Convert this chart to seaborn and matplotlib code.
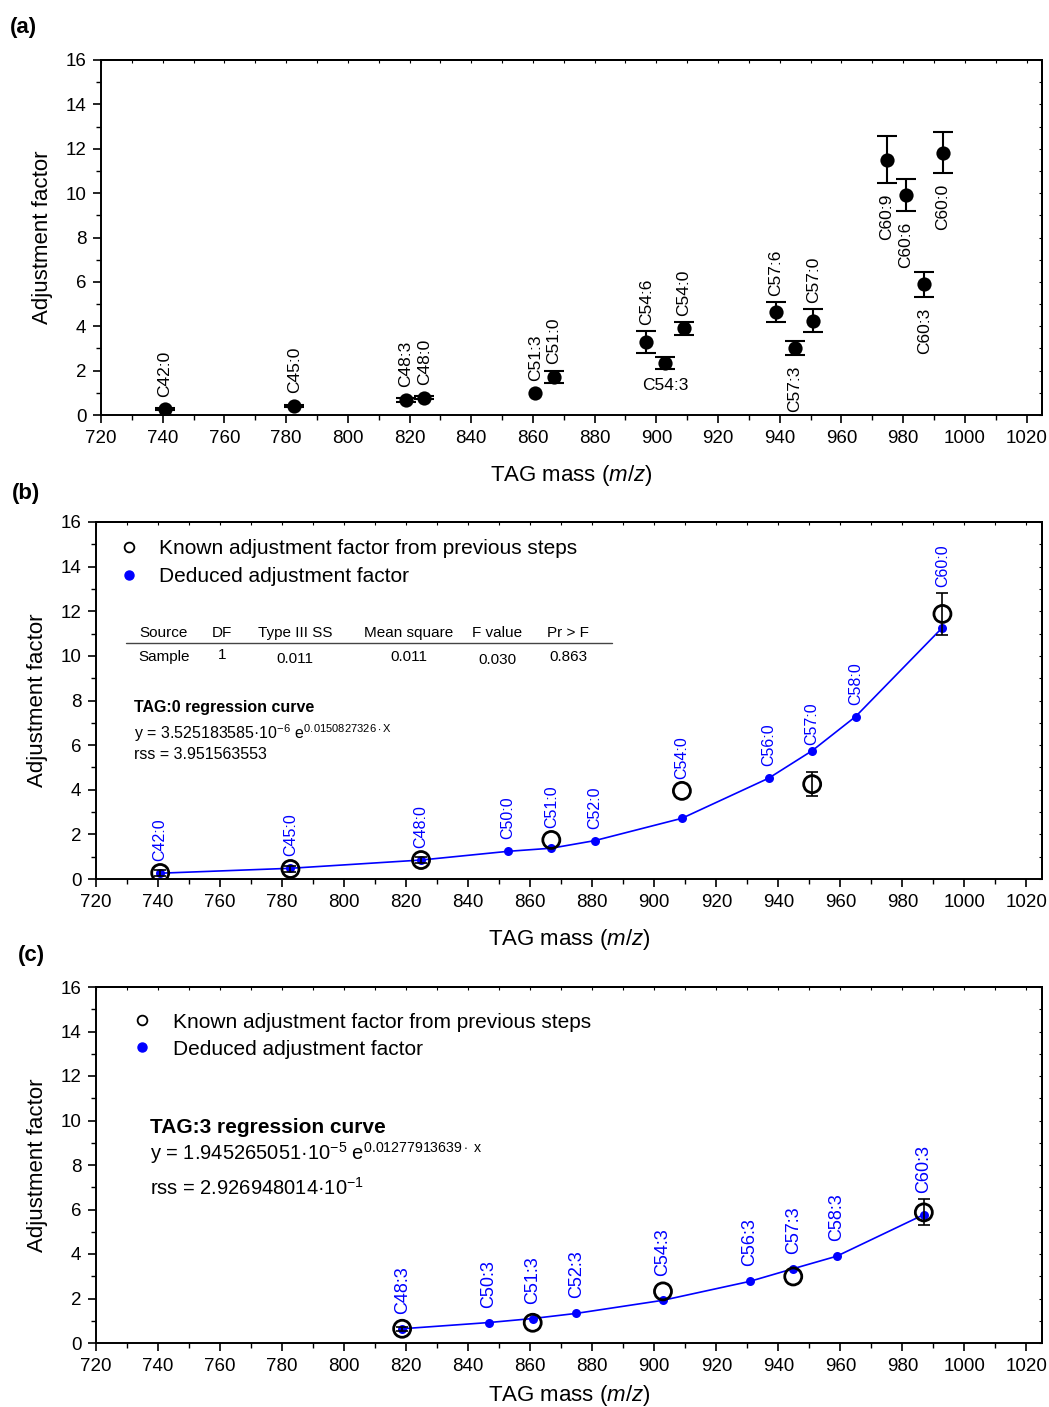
import numpy as np
import pandas as pd
import matplotlib
matplotlib.use("Agg")
import matplotlib.pyplot as plt
import seaborn as sns
from matplotlib.ticker import MultipleLocator, NullFormatter
from matplotlib.lines import Line2D

# ---------------- data ----------------
# Panel (a)
a_names = ["C42:0", "C45:0", "C48:3", "C48:0", "C51:3", "C51:0", "C54:6", "C54:3",
           "C54:0", "C57:6", "C57:3", "C57:0", "C60:9", "C60:6", "C60:3", "C60:0"]
a_mass = [740.7, 782.7, 818.7, 824.8, 860.8, 866.8, 896.7, 902.8,
          908.9, 938.8, 944.8, 950.9, 974.8, 980.9, 986.9, 992.9]
a_factor = [0.26, 0.42, 0.67, 0.78, 0.97, 1.72, 3.30, 2.35,
            3.90, 4.64, 3.03, 4.24, 11.51, 9.93, 5.89, 11.83]
a_error = [0.05, 0.05, 0.08, 0.08, 0.0, 0.26, 0.50, 0.28,
           0.30, 0.46, 0.32, 0.52, 1.05, 0.72, 0.55, 0.93]

# Panel (b) TAG:0
b_ded_names = ["C42:0", "C45:0", "C48:0", "C50:0", "C51:0", "C52:0",
               "C54:0", "C56:0", "C57:0", "C58:0", "C60:0"]
b_ded_mass = [740.7, 782.7, 824.8, 852.8, 866.8, 880.8, 908.9, 936.9, 950.9, 964.9, 992.9]
b_ded_factor = [0.26, 0.48, 0.85, 1.24, 1.38, 1.72, 2.72, 4.52, 5.75, 7.28, 11.27]
b_known_mass = [740.7, 782.7, 824.8, 866.8, 908.9, 950.9, 992.9]
b_known_factor = [0.27, 0.45, 0.85, 1.75, 3.95, 4.25, 11.88]
b_known_error = [0.12, 0.12, 0.12, 0.0, 0.0, 0.55, 0.94]

# Panel (c) TAG:3
c_ded_names = ["C48:3", "C50:3", "C51:3", "C52:3", "C54:3", "C56:3", "C57:3", "C58:3", "C60:3"]
c_ded_mass = [818.7, 846.7, 860.8, 874.8, 902.8, 930.8, 944.8, 958.8, 986.9]
c_ded_factor = [0.64, 0.92, 1.10, 1.33, 1.92, 2.77, 3.34, 3.90, 5.77]
c_known_mass = [818.7, 860.8, 902.8, 944.8, 986.9]
c_known_factor = [0.64, 0.91, 2.32, 2.99, 5.87]
c_known_error = [0.10, 0.0, 0.0, 0.0, 0.58]

# table in panel (b)
tbl_header = ["Source", "DF", "Type III SS", "Mean square", "F value", "Pr > F"]
tbl_row = ["Sample", "1", "0.011", "0.011", "0.030", "0.863"]

x_ticks = list(range(720, 1021, 20))
y_ticks = list(range(0, 17, 2))

# label placement in panel (a)
a_below = {"C57:3", "C60:9", "C60:6", "C60:3", "C60:0"}
a_below_h = {"C54:3"}

# ---------------- style ----------------
sns.set_theme(style="ticks")
plt.rcParams["font.family"] = ["Liberation Sans", "DejaVu Sans"]
plt.rcParams["mathtext.fontset"] = "custom"
plt.rcParams["mathtext.rm"] = "Liberation Sans"
plt.rcParams["mathtext.it"] = "Liberation Sans:italic"
plt.rcParams["mathtext.bf"] = "Liberation Sans:bold"
plt.rcParams["axes.linewidth"] = 1.4
for k in ["text.color", "axes.labelcolor", "xtick.color", "ytick.color", "axes.edgecolor"]:
    plt.rcParams[k] = "black"

W, H = 1049, 1407
fig = plt.figure(figsize=(W / 100, H / 100), dpi=100)
ax_a = fig.add_axes([101 / W, 1 - 415 / H, 941 / W, 355 / H])
ax_b = fig.add_axes([96 / W, 1 - 879 / H, 946 / W, 357 / H])
ax_c = fig.add_axes([96 / W, 1 - 1343 / H, 946 / W, 356 / H])


def style_axes(ax, xpad):
    ax.set_xlim(720, 1025)
    ax.set_ylim(0, 16)
    ax.set_xticks(x_ticks)
    ax.set_yticks(y_ticks)
    ax.xaxis.set_minor_locator(MultipleLocator(10))
    ax.yaxis.set_minor_locator(MultipleLocator(1))
    ax.tick_params(which="major", direction="out", length=6, width=1.2,
                   labelsize=13.5, pad=4.5, colors="black")
    ax.tick_params(which="minor", direction="out", length=3.5, width=1.0, colors="black")
    for s in ax.spines.values():
        s.set_visible(True)
        s.set_color("black")
        s.set_linewidth(1.4)
    secx = ax.secondary_xaxis("top")
    secx.xaxis.set_major_locator(MultipleLocator(10))
    secx.xaxis.set_major_formatter(NullFormatter())
    secx.tick_params(direction="in", length=2.5, width=0.8)
    secy = ax.secondary_yaxis("right")
    secy.yaxis.set_major_locator(MultipleLocator(1))
    secy.yaxis.set_major_formatter(NullFormatter())
    secy.tick_params(direction="in", length=2.5, width=0.8)
    ax.set_xlabel(r"TAG mass ($\mathit{m/z}$)", fontsize=16, labelpad=xpad)
    ax.set_ylabel("Adjustment factor", fontsize=16, labelpad=9)
    ax.grid(False)


style_axes(ax_a, 12)
style_axes(ax_b, 12)
style_axes(ax_c, 6)

# ---------------- panel (a) ----------------
df_a = pd.DataFrame({"name": a_names, "mass": a_mass, "factor": a_factor, "err": a_error})
df_ae = df_a[df_a["err"] > 0]
ax_a.errorbar(df_ae["mass"], df_ae["factor"], yerr=df_ae["err"], fmt="none",
              ecolor="black", elinewidth=1.5, capsize=7, capthick=1.5, zorder=2)
sns.scatterplot(data=df_a, x="mass", y="factor", ax=ax_a, s=105, color="black",
                edgecolor="black", linewidth=0, zorder=3, legend=False)
for _, r in df_a.iterrows():
    top = r["factor"] + max(r["err"], 0.3)
    bot = r["factor"] - max(r["err"], 0.3)
    if r["name"] in a_below_h:
        ax_a.annotate(r["name"], (r["mass"], bot), xytext=(0, -8), textcoords="offset pixels",
                      ha="center", va="top", fontsize=12.5)
    elif r["name"] in a_below:
        ax_a.annotate(r["name"], (r["mass"], bot), xytext=(0, -11), textcoords="offset pixels",
                      ha="center", va="top", rotation=90, fontsize=12.5)
    else:
        ax_a.annotate(r["name"], (r["mass"], top), xytext=(0, 6), textcoords="offset pixels",
                      ha="center", va="bottom", rotation=90, fontsize=12.5)


def draw_regression(ax, ded_names, ded_mass, ded_factor, k_mass, k_factor, k_err,
                    lab_size, pad_pts, pad_err):
    df_d = pd.DataFrame({"name": ded_names, "mass": ded_mass, "factor": ded_factor})
    df_k = pd.DataFrame({"mass": k_mass, "factor": k_factor, "err": k_err})
    df_ke = df_k[df_k["err"] > 0]
    sns.lineplot(data=df_d, x="mass", y="factor", ax=ax, color="#0000ff", lw=1.2,
                 estimator=None, sort=True, zorder=2)
    sns.scatterplot(data=df_d, x="mass", y="factor", ax=ax, s=42, color="#0000ff",
                    edgecolor="#0000ff", linewidth=0, zorder=3, legend=False)
    ax.errorbar(df_ke["mass"], df_ke["factor"], yerr=df_ke["err"], fmt="none",
                ecolor="black", elinewidth=1.2, capsize=4.5, capthick=1.2, zorder=4)
    sns.scatterplot(data=df_k, x="mass", y="factor", ax=ax, s=150, facecolor="none",
                    edgecolor="black", linewidth=2.0, zorder=5, legend=False)
    for _, r in df_d.iterrows():
        base = r["factor"]
        off = pad_pts
        match = df_k[np.isclose(df_k["mass"], r["mass"])]
        if len(match):
            kr = match.iloc[0]
            if kr["err"] > 0.3:
                base = max(base, kr["factor"] + kr["err"])
                off = pad_err
            else:
                base = max(base, kr["factor"])
        ax.annotate(r["name"], (r["mass"], base), xytext=(0, off), textcoords="offset pixels",
                    ha="center", va="bottom", rotation=90, fontsize=lab_size, color="#0000ff")


# ---------------- panel (b) ----------------
draw_regression(ax_b, b_ded_names, b_ded_mass, b_ded_factor, b_known_mass,
                b_known_factor, b_known_error, 11.5, 12, 6)

handles = [Line2D([], [], marker="o", ls="none", mfc="white", mec="black", mew=1.3, ms=7),
           Line2D([], [], marker="o", ls="none", mfc="#0000ff", mec="#0000ff", ms=6.5)]
leg_labels = ["Known adjustment factor from previous steps", "Deduced adjustment factor"]
ax_b.legend(handles, leg_labels, loc="upper left", bbox_to_anchor=(0.0236, 0.952),
            frameon=False, fontsize=15, handlelength=1.0, handletextpad=0.95,
            borderpad=0, borderaxespad=0, labelspacing=0.42)

col_x = [0.0719, 0.1332, 0.2104, 0.3309, 0.4239, 0.4989]
row_y = [0.622, 0.627, 0.616, 0.622, 0.613, 0.622]
for cx, h in zip(col_x, tbl_header):
    ax_b.text(cx, 0.689, h, transform=ax_b.transAxes, ha="center", va="center", fontsize=11)
for cx, ry, v in zip(col_x, row_y, tbl_row):
    ax_b.text(cx, ry, v, transform=ax_b.transAxes, ha="center", va="center", fontsize=11)
ax_b.plot([0.0317, 0.5455], [0.661, 0.661], transform=ax_b.transAxes, color="#444444", lw=1.0)

ax_b.text(0.0402, 0.479, "TAG:0 regression curve", transform=ax_b.transAxes,
          fontsize=11.5, fontweight="bold", va="center")
ax_b.text(0.0402, 0.409, r"y = 3.525183585·10$^{-6}$ e$^{0.0150827326\cdot\mathrm{X}}$",
          transform=ax_b.transAxes, fontsize=11.5, va="center")
ax_b.text(0.0402, 0.350, "rss = 3.951563553", transform=ax_b.transAxes,
          fontsize=11.5, va="center")

# ---------------- panel (c) ----------------
draw_regression(ax_c, c_ded_names, c_ded_mass, c_ded_factor, c_known_mass,
                c_known_factor, c_known_error, 13, 15, 6)

ax_c.legend(handles, leg_labels, loc="upper left", bbox_to_anchor=(0.0373, 0.928),
            frameon=False, fontsize=15, handlelength=1.0, handletextpad=1.0,
            borderpad=0, borderaxespad=0, labelspacing=0.38)

ax_c.text(0.0571, 0.6067, "TAG:3 regression curve", transform=ax_c.transAxes,
          fontsize=15, fontweight="bold", va="center")
ax_c.text(0.0571, 0.5337, r"y = 1.945265051·10$^{-5}$ e$^{0.01277913639\cdot\ \mathrm{x}}$",
          transform=ax_c.transAxes, fontsize=14.5, va="center")
ax_c.text(0.0571, 0.4354, r"rss = 2.926948014·10$^{-1}$", transform=ax_c.transAxes,
          fontsize=14.5, va="center")

# panel letters
fig.text(10 / W, 1 - 28 / H, "(a)", fontsize=16, fontweight="bold", va="center")
fig.text(12 / W, 1 - 494 / H, "(b)", fontsize=16, fontweight="bold", va="center")
fig.text(18 / W, 1 - 955 / H, "(c)", fontsize=16, fontweight="bold", va="center")

fig.savefig("out.png", dpi=100)
